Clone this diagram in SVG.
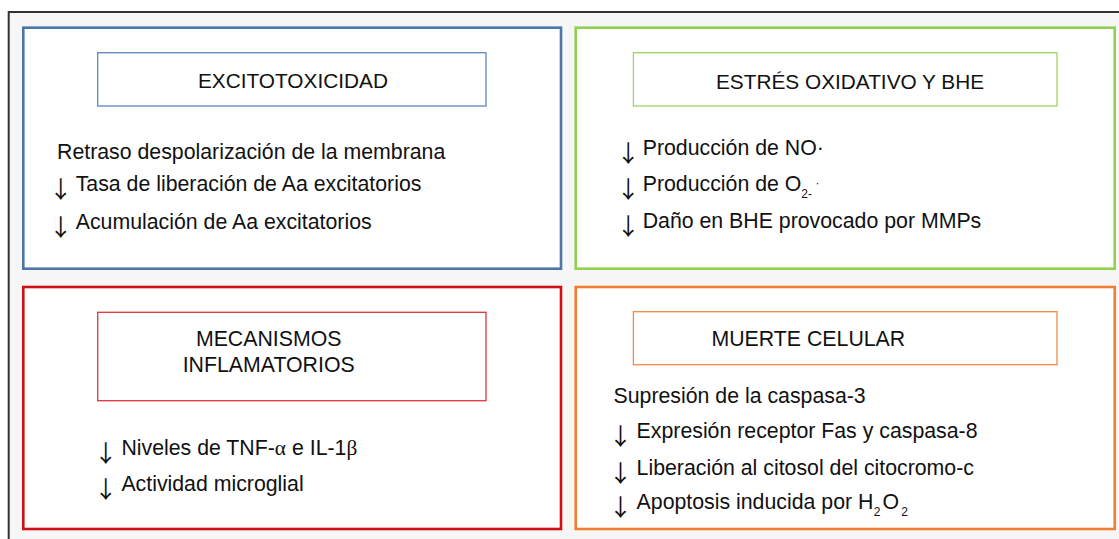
<svg xmlns="http://www.w3.org/2000/svg" width="1119" height="539" viewBox="0 0 1119 539">
<style>
text{font-family:"Liberation Sans",Arial,sans-serif;font-size:21.3px;fill:#111}
.t2{font-size:20.8px}
.sub{font-size:12px}
.gr{font-family:"Liberation Serif","DejaVu Serif",serif}
.arr{font-family:"Noto Sans CJK JP",sans-serif;font-weight:400;font-size:23.5px;text-anchor:middle}
.box{fill:#fff;stroke-width:2.6}
.ttl{fill:#fff;stroke-width:1.3}
</style>
<rect x="0" y="0" width="1119" height="539" fill="#fff"/>
<rect x="8.7" y="12" width="1130" height="540" fill="#f6f6f6" stroke="#333" stroke-width="2"/>
<g id="excitotoxicidad">
<rect class="box" x="23.3" y="27.7" width="537.7" height="241" stroke="#4a76a8"/>
<rect class="ttl" x="97.7" y="52.7" width="388.3" height="53.3" stroke="#5b88bf"/>
<text class="t2" x="198" y="87.5">EXCITOTOXICIDAD</text>
<text x="57" y="159">Retraso despolarización de la membrana</text>
<text class="arr" x="60.7" y="197.7">↓</text><text x="75.7" y="190.7">Tasa de liberación de Aa excitatorios</text>
<text class="arr" x="60.7" y="236.3">↓</text><text x="75.7" y="229.3">Acumulación de Aa excitatorios</text>
</g>
<g id="estres">
<rect class="box" x="575.7" y="27.7" width="539" height="241" stroke="#92d050"/>
<rect class="ttl" x="633.4" y="52.7" width="423.6" height="53.3" stroke="#9ed565" stroke-width="1.6"/>
<text class="t2" x="716" y="89">ESTRÉS OXIDATIVO Y BHE</text>
<text class="arr" x="628.2" y="162">↓</text><text x="642.7" y="155">Producción de NO·</text>
<text class="arr" x="628.2" y="198">↓</text><text x="642.7" y="191">Producción de O<tspan class="sub" dy="7">2-</tspan><tspan class="sub" x="815.5" y="186.5">·</tspan></text>
<text class="arr" x="628.2" y="234.7">↓</text><text x="642.7" y="227.7">Daño en BHE provocado por MMPs</text>
</g>
<g id="inflamatorios">
<rect class="box" x="23.3" y="287" width="537.7" height="242" stroke="#cc1016"/>
<rect class="ttl" x="97.7" y="312.3" width="388.3" height="88.4" stroke="#e0363a"/>
<text x="268.7" y="346" text-anchor="middle">MECANISMOS</text>
<text x="268.7" y="371.7" text-anchor="middle">INFLAMATORIOS</text>
<text class="arr" x="105.8" y="462">↓</text><text x="121.4" y="455">Niveles de TNF-<tspan class="gr">α</tspan> e IL-1<tspan class="gr">β</tspan></text>
<text class="arr" x="105.8" y="497.7">↓</text><text x="121.4" y="490.7">Actividad microglial</text>
</g>
<g id="muerte">
<rect class="box" x="575.7" y="287" width="539" height="242" stroke="#f07f34"/>
<rect class="ttl" x="633.4" y="311.7" width="423.6" height="53" stroke="#f28a45" stroke-width="1.6"/>
<text x="711.5" y="346">MUERTE CELULAR</text>
<text x="613.5" y="403.3">Supresión de la caspasa-3</text>
<text class="arr" x="620.5" y="445.3">↓</text><text x="636.6" y="438.3">Expresión receptor Fas y caspasa-8</text>
<text class="arr" x="620.5" y="482">↓</text><text x="636.6" y="475">Liberación al citosol del citocromo-c</text>
<text class="arr" x="620.5" y="516.3">↓</text><text x="636.6" y="509.3">Apoptosis inducida por H<tspan class="sub" x="873.7" y="515.5">2</tspan><tspan x="882.6" y="509.3">O</tspan><tspan class="sub" x="901.2" y="515.5">2</tspan></text>
</g>
</svg>
